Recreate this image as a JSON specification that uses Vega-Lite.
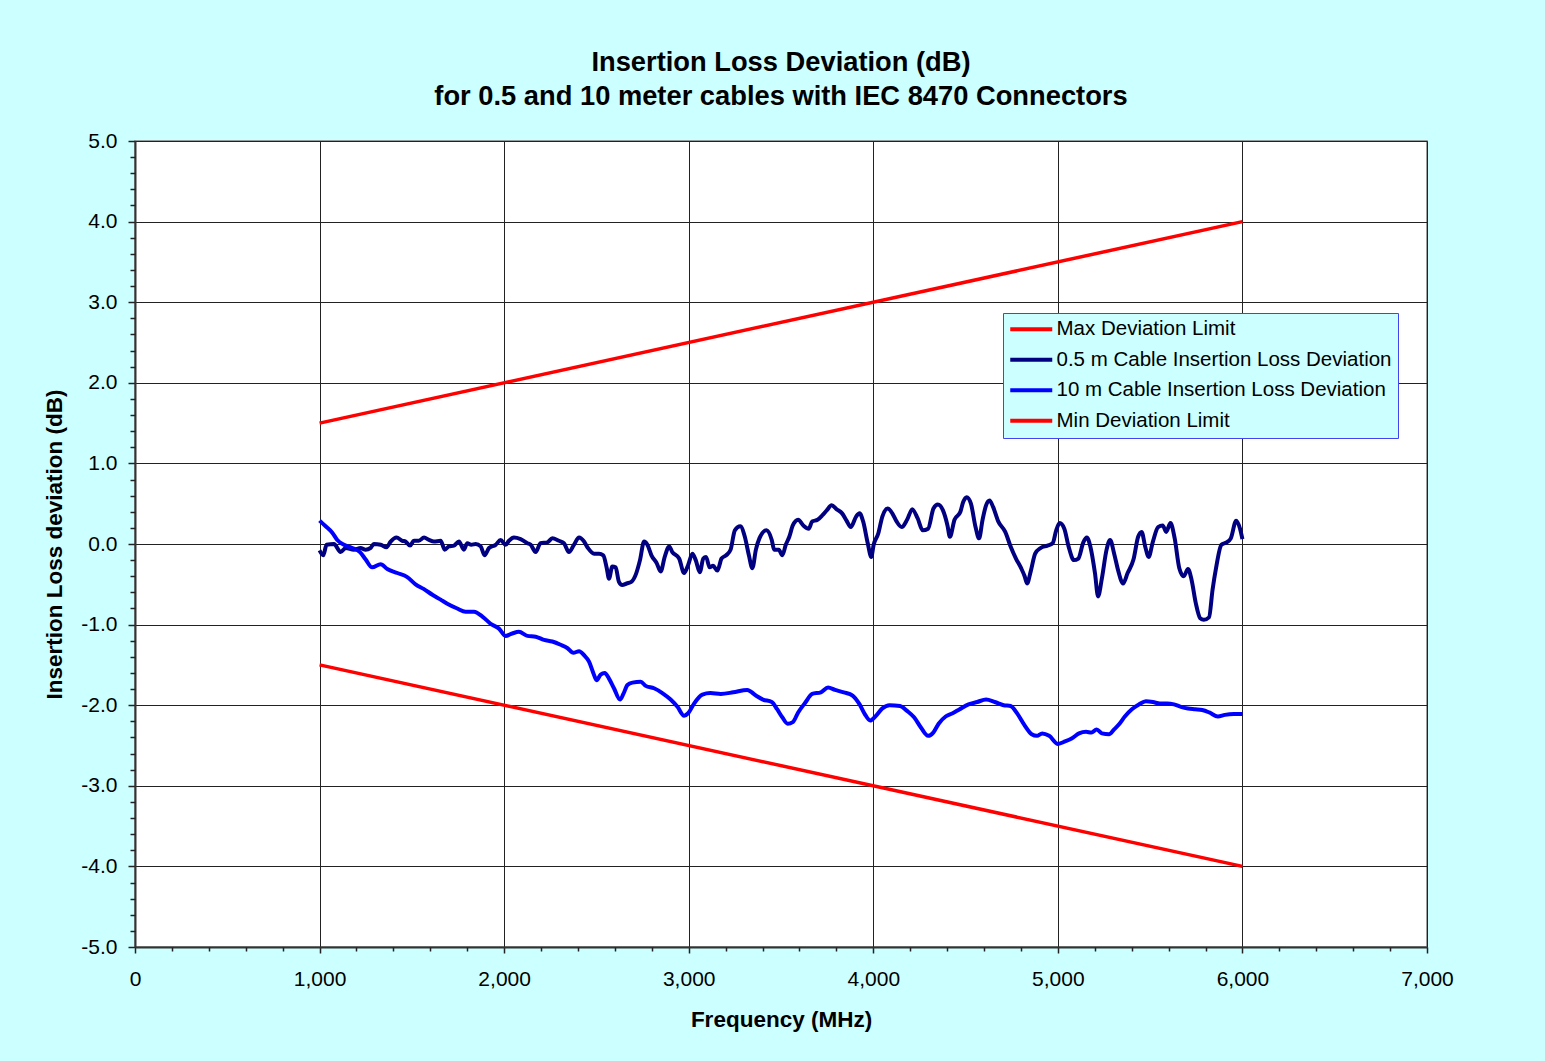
{
  "$schema": "https://vega.github.io/schema/vega-lite/v6.json",
  "width": 1292,
  "height": 806,
  "autosize": {"type": "none"},
  "padding": {"left": 135, "top": 141, "right": 118, "bottom": 114},
  "background": "#CCFFFF",
  "title": {
    "text": ["Insertion Loss Deviation (dB)", "for 0.5 and 10 meter cables with IEC 8470 Connectors"],
    "font": "Liberation Sans",
    "fontSize": 27.3,
    "fontWeight": "bold",
    "color": "#000000",
    "anchor": "middle",
    "frame": "group",
    "offset": 20,
    "lineHeight": 34
  },
  "config": {
    "font": "Liberation Sans",
    "view": {"fill": "#FFFFFF", "stroke": "#808080", "strokeWidth": 1.5}
  },
  "layer": [
    {
      "data": {"values": [
        {"s": "Max Deviation Limit", "f": 1000, "v": 1.5},
        {"s": "Max Deviation Limit", "f": 6000, "v": 4.0},
        {"s": "Min Deviation Limit", "f": 1000, "v": -1.5},
        {"s": "Min Deviation Limit", "f": 6000, "v": -4.0}
      ]},
      "mark": {"type": "line", "strokeWidth": 3.5},
      "encoding": {
        "x": {
          "field": "f", "type": "quantitative",
          "scale": {"domain": [0, 7000], "nice": false, "zero": false},
          "axis": {
            "orient": "bottom",
            "values": [0, 1000, 2000, 3000, 4000, 5000, 6000, 7000],
            "format": ",.0f",
            "title": "Frequency (MHz)",
            "titleFont": "Liberation Sans", "titleFontSize": 22.5, "titleFontWeight": "bold", "titleColor": "#000000",
            "titlePadding": 19,
            "labelFont": "Liberation Sans", "labelFontSize": 21, "labelColor": "#000000",
            "labelPadding": 15, "labelFlush": false, "labelOverlap": false,
            "tickSize": 6, "tickColor": "#222222", "tickWidth": 1.5,
            "domainColor": "#333333", "domainWidth": 2,
            "grid": true, "gridColor": "#222222", "gridWidth": 1
          }
        },
        "y": {
          "field": "v", "type": "quantitative",
          "scale": {"domain": [-5, 5], "nice": false, "zero": false},
          "axis": {
            "orient": "left",
            "values": [-5, -4, -3, -2, -1, 0, 1, 2, 3, 4, 5],
            "labelExpr": "replace(format(datum.value, '.1f'), '\u2212', '-')",
            "title": "Insertion Loss deviation (dB)",
            "titleFont": "Liberation Sans", "titleFontSize": 22.5, "titleFontWeight": "bold", "titleColor": "#000000",
            "titlePadding": 14,
            "labelFont": "Liberation Sans", "labelFontSize": 21, "labelColor": "#000000",
            "labelPadding": 11, "labelFlush": false, "labelOverlap": false,
            "tickSize": 7, "tickColor": "#222222", "tickWidth": 1.5,
            "domainColor": "#333333", "domainWidth": 2,
            "grid": true, "gridColor": "#222222", "gridWidth": 1
          }
        },
        "color": {
          "field": "s", "type": "nominal",
          "scale": {
            "domain": ["Max Deviation Limit", "0.5 m Cable Insertion Loss Deviation", "10 m Cable Insertion Loss Deviation", "Min Deviation Limit"],
            "range": ["#FF0000", "#000080", "#0000FF", "#FF0000"]
          },
          "legend": {
            "orient": "none",
            "legendX": 868,
            "legendY": 172,
            "title": null,
            "fillColor": "#CCFFFF",
            "strokeColor": "#4444EE",
            "padding": 6,
            "rowPadding": 9.5,
            "symbolType": "M-9,0H33",
            "symbolSize": 4,
            "symbolStrokeWidth": 4,
            "symbolOpacity": 1,
            "labelOffset": 27,
            "labelFont": "Liberation Sans",
            "labelFontSize": 20.5,
            "labelColor": "#000000",
            "labelLimit": 400
          }
        }
      }
    },
    {
      "data": {"values": [
        {"s": "0.5 m Cable Insertion Loss Deviation", "f": 1000, "v": -0.08},
        {"s": "0.5 m Cable Insertion Loss Deviation", "f": 1020, "v": -0.14},
        {"s": "0.5 m Cable Insertion Loss Deviation", "f": 1038, "v": -0.01},
        {"s": "0.5 m Cable Insertion Loss Deviation", "f": 1078, "v": 0.0},
        {"s": "0.5 m Cable Insertion Loss Deviation", "f": 1114, "v": -0.10},
        {"s": "0.5 m Cable Insertion Loss Deviation", "f": 1141, "v": -0.05},
        {"s": "0.5 m Cable Insertion Loss Deviation", "f": 1186, "v": -0.07},
        {"s": "0.5 m Cable Insertion Loss Deviation", "f": 1222, "v": -0.05},
        {"s": "0.5 m Cable Insertion Loss Deviation", "f": 1249, "v": -0.07},
        {"s": "0.5 m Cable Insertion Loss Deviation", "f": 1276, "v": -0.05},
        {"s": "0.5 m Cable Insertion Loss Deviation", "f": 1294, "v": 0.0},
        {"s": "0.5 m Cable Insertion Loss Deviation", "f": 1331, "v": -0.01},
        {"s": "0.5 m Cable Insertion Loss Deviation", "f": 1363, "v": -0.04},
        {"s": "0.5 m Cable Insertion Loss Deviation", "f": 1385, "v": 0.03},
        {"s": "0.5 m Cable Insertion Loss Deviation", "f": 1417, "v": 0.08},
        {"s": "0.5 m Cable Insertion Loss Deviation", "f": 1448, "v": 0.04},
        {"s": "0.5 m Cable Insertion Loss Deviation", "f": 1466, "v": 0.03},
        {"s": "0.5 m Cable Insertion Loss Deviation", "f": 1490, "v": -0.02},
        {"s": "0.5 m Cable Insertion Loss Deviation", "f": 1511, "v": 0.04},
        {"s": "0.5 m Cable Insertion Loss Deviation", "f": 1538, "v": 0.04},
        {"s": "0.5 m Cable Insertion Loss Deviation", "f": 1566, "v": 0.08},
        {"s": "0.5 m Cable Insertion Loss Deviation", "f": 1593, "v": 0.05},
        {"s": "0.5 m Cable Insertion Loss Deviation", "f": 1620, "v": 0.03},
        {"s": "0.5 m Cable Insertion Loss Deviation", "f": 1656, "v": 0.04},
        {"s": "0.5 m Cable Insertion Loss Deviation", "f": 1678, "v": -0.07},
        {"s": "0.5 m Cable Insertion Loss Deviation", "f": 1701, "v": -0.03},
        {"s": "0.5 m Cable Insertion Loss Deviation", "f": 1728, "v": -0.02},
        {"s": "0.5 m Cable Insertion Loss Deviation", "f": 1755, "v": 0.03},
        {"s": "0.5 m Cable Insertion Loss Deviation", "f": 1782, "v": -0.07},
        {"s": "0.5 m Cable Insertion Loss Deviation", "f": 1800, "v": 0.01},
        {"s": "0.5 m Cable Insertion Loss Deviation", "f": 1822, "v": -0.01},
        {"s": "0.5 m Cable Insertion Loss Deviation", "f": 1846, "v": 0.0},
        {"s": "0.5 m Cable Insertion Loss Deviation", "f": 1873, "v": -0.03},
        {"s": "0.5 m Cable Insertion Loss Deviation", "f": 1894, "v": -0.14},
        {"s": "0.5 m Cable Insertion Loss Deviation", "f": 1918, "v": -0.05},
        {"s": "0.5 m Cable Insertion Loss Deviation", "f": 1954, "v": -0.01},
        {"s": "0.5 m Cable Insertion Loss Deviation", "f": 1981, "v": 0.05},
        {"s": "0.5 m Cable Insertion Loss Deviation", "f": 2008, "v": -0.01},
        {"s": "0.5 m Cable Insertion Loss Deviation", "f": 2026, "v": 0.04},
        {"s": "0.5 m Cable Insertion Loss Deviation", "f": 2053, "v": 0.08},
        {"s": "0.5 m Cable Insertion Loss Deviation", "f": 2089, "v": 0.06},
        {"s": "0.5 m Cable Insertion Loss Deviation", "f": 2126, "v": 0.01},
        {"s": "0.5 m Cable Insertion Loss Deviation", "f": 2144, "v": -0.01},
        {"s": "0.5 m Cable Insertion Loss Deviation", "f": 2171, "v": -0.10},
        {"s": "0.5 m Cable Insertion Loss Deviation", "f": 2197, "v": 0.01},
        {"s": "0.5 m Cable Insertion Loss Deviation", "f": 2234, "v": 0.02},
        {"s": "0.5 m Cable Insertion Loss Deviation", "f": 2261, "v": 0.07},
        {"s": "0.5 m Cable Insertion Loss Deviation", "f": 2297, "v": 0.04},
        {"s": "0.5 m Cable Insertion Loss Deviation", "f": 2324, "v": 0.01},
        {"s": "0.5 m Cable Insertion Loss Deviation", "f": 2351, "v": -0.10},
        {"s": "0.5 m Cable Insertion Loss Deviation", "f": 2378, "v": -0.01},
        {"s": "0.5 m Cable Insertion Loss Deviation", "f": 2406, "v": 0.08},
        {"s": "0.5 m Cable Insertion Loss Deviation", "f": 2433, "v": 0.03},
        {"s": "0.5 m Cable Insertion Loss Deviation", "f": 2454, "v": -0.05},
        {"s": "0.5 m Cable Insertion Loss Deviation", "f": 2487, "v": -0.12},
        {"s": "0.5 m Cable Insertion Loss Deviation", "f": 2514, "v": -0.12},
        {"s": "0.5 m Cable Insertion Loss Deviation", "f": 2537, "v": -0.14},
        {"s": "0.5 m Cable Insertion Loss Deviation", "f": 2556, "v": -0.30},
        {"s": "0.5 m Cable Insertion Loss Deviation", "f": 2568, "v": -0.43},
        {"s": "0.5 m Cable Insertion Loss Deviation", "f": 2586, "v": -0.28},
        {"s": "0.5 m Cable Insertion Loss Deviation", "f": 2604, "v": -0.29},
        {"s": "0.5 m Cable Insertion Loss Deviation", "f": 2622, "v": -0.47},
        {"s": "0.5 m Cable Insertion Loss Deviation", "f": 2640, "v": -0.51},
        {"s": "0.5 m Cable Insertion Loss Deviation", "f": 2664, "v": -0.49},
        {"s": "0.5 m Cable Insertion Loss Deviation", "f": 2689, "v": -0.47},
        {"s": "0.5 m Cable Insertion Loss Deviation", "f": 2713, "v": -0.38},
        {"s": "0.5 m Cable Insertion Loss Deviation", "f": 2736, "v": -0.20},
        {"s": "0.5 m Cable Insertion Loss Deviation", "f": 2758, "v": 0.03},
        {"s": "0.5 m Cable Insertion Loss Deviation", "f": 2776, "v": -0.01},
        {"s": "0.5 m Cable Insertion Loss Deviation", "f": 2798, "v": -0.14},
        {"s": "0.5 m Cable Insertion Loss Deviation", "f": 2827, "v": -0.24},
        {"s": "0.5 m Cable Insertion Loss Deviation", "f": 2848, "v": -0.34},
        {"s": "0.5 m Cable Insertion Loss Deviation", "f": 2870, "v": -0.16},
        {"s": "0.5 m Cable Insertion Loss Deviation", "f": 2894, "v": -0.03},
        {"s": "0.5 m Cable Insertion Loss Deviation", "f": 2911, "v": -0.10},
        {"s": "0.5 m Cable Insertion Loss Deviation", "f": 2948, "v": -0.18},
        {"s": "0.5 m Cable Insertion Loss Deviation", "f": 2975, "v": -0.36},
        {"s": "0.5 m Cable Insertion Loss Deviation", "f": 2997, "v": -0.26},
        {"s": "0.5 m Cable Insertion Loss Deviation", "f": 3020, "v": -0.12},
        {"s": "0.5 m Cable Insertion Loss Deviation", "f": 3038, "v": -0.20},
        {"s": "0.5 m Cable Insertion Loss Deviation", "f": 3060, "v": -0.35},
        {"s": "0.5 m Cable Insertion Loss Deviation", "f": 3079, "v": -0.18},
        {"s": "0.5 m Cable Insertion Loss Deviation", "f": 3094, "v": -0.16},
        {"s": "0.5 m Cable Insertion Loss Deviation", "f": 3113, "v": -0.29},
        {"s": "0.5 m Cable Insertion Loss Deviation", "f": 3132, "v": -0.27},
        {"s": "0.5 m Cable Insertion Loss Deviation", "f": 3155, "v": -0.33},
        {"s": "0.5 m Cable Insertion Loss Deviation", "f": 3178, "v": -0.18},
        {"s": "0.5 m Cable Insertion Loss Deviation", "f": 3203, "v": -0.14},
        {"s": "0.5 m Cable Insertion Loss Deviation", "f": 3227, "v": -0.07},
        {"s": "0.5 m Cable Insertion Loss Deviation", "f": 3250, "v": 0.17},
        {"s": "0.5 m Cable Insertion Loss Deviation", "f": 3279, "v": 0.22},
        {"s": "0.5 m Cable Insertion Loss Deviation", "f": 3304, "v": 0.09},
        {"s": "0.5 m Cable Insertion Loss Deviation", "f": 3326, "v": -0.14},
        {"s": "0.5 m Cable Insertion Loss Deviation", "f": 3345, "v": -0.30},
        {"s": "0.5 m Cable Insertion Loss Deviation", "f": 3364, "v": -0.07},
        {"s": "0.5 m Cable Insertion Loss Deviation", "f": 3383, "v": 0.07},
        {"s": "0.5 m Cable Insertion Loss Deviation", "f": 3421, "v": 0.17},
        {"s": "0.5 m Cable Insertion Loss Deviation", "f": 3450, "v": 0.05},
        {"s": "0.5 m Cable Insertion Loss Deviation", "f": 3463, "v": -0.07},
        {"s": "0.5 m Cable Insertion Loss Deviation", "f": 3488, "v": -0.07},
        {"s": "0.5 m Cable Insertion Loss Deviation", "f": 3507, "v": -0.14},
        {"s": "0.5 m Cable Insertion Loss Deviation", "f": 3526, "v": -0.01},
        {"s": "0.5 m Cable Insertion Loss Deviation", "f": 3545, "v": 0.09},
        {"s": "0.5 m Cable Insertion Loss Deviation", "f": 3564, "v": 0.23},
        {"s": "0.5 m Cable Insertion Loss Deviation", "f": 3593, "v": 0.30},
        {"s": "0.5 m Cable Insertion Loss Deviation", "f": 3621, "v": 0.23},
        {"s": "0.5 m Cable Insertion Loss Deviation", "f": 3650, "v": 0.19},
        {"s": "0.5 m Cable Insertion Loss Deviation", "f": 3669, "v": 0.28},
        {"s": "0.5 m Cable Insertion Loss Deviation", "f": 3698, "v": 0.30},
        {"s": "0.5 m Cable Insertion Loss Deviation", "f": 3726, "v": 0.36},
        {"s": "0.5 m Cable Insertion Loss Deviation", "f": 3749, "v": 0.42},
        {"s": "0.5 m Cable Insertion Loss Deviation", "f": 3774, "v": 0.48},
        {"s": "0.5 m Cable Insertion Loss Deviation", "f": 3802, "v": 0.43},
        {"s": "0.5 m Cable Insertion Loss Deviation", "f": 3831, "v": 0.38},
        {"s": "0.5 m Cable Insertion Loss Deviation", "f": 3855, "v": 0.29},
        {"s": "0.5 m Cable Insertion Loss Deviation", "f": 3878, "v": 0.21},
        {"s": "0.5 m Cable Insertion Loss Deviation", "f": 3907, "v": 0.34},
        {"s": "0.5 m Cable Insertion Loss Deviation", "f": 3926, "v": 0.38},
        {"s": "0.5 m Cable Insertion Loss Deviation", "f": 3945, "v": 0.28},
        {"s": "0.5 m Cable Insertion Loss Deviation", "f": 3970, "v": 0.01},
        {"s": "0.5 m Cable Insertion Loss Deviation", "f": 3989, "v": -0.16},
        {"s": "0.5 m Cable Insertion Loss Deviation", "f": 4002, "v": -0.01},
        {"s": "0.5 m Cable Insertion Loss Deviation", "f": 4027, "v": 0.13},
        {"s": "0.5 m Cable Insertion Loss Deviation", "f": 4049, "v": 0.34},
        {"s": "0.5 m Cable Insertion Loss Deviation", "f": 4078, "v": 0.44},
        {"s": "0.5 m Cable Insertion Loss Deviation", "f": 4103, "v": 0.38},
        {"s": "0.5 m Cable Insertion Loss Deviation", "f": 4126, "v": 0.28},
        {"s": "0.5 m Cable Insertion Loss Deviation", "f": 4154, "v": 0.21},
        {"s": "0.5 m Cable Insertion Loss Deviation", "f": 4183, "v": 0.30},
        {"s": "0.5 m Cable Insertion Loss Deviation", "f": 4211, "v": 0.43},
        {"s": "0.5 m Cable Insertion Loss Deviation", "f": 4240, "v": 0.32},
        {"s": "0.5 m Cable Insertion Loss Deviation", "f": 4268, "v": 0.17},
        {"s": "0.5 m Cable Insertion Loss Deviation", "f": 4297, "v": 0.19},
        {"s": "0.5 m Cable Insertion Loss Deviation", "f": 4326, "v": 0.44},
        {"s": "0.5 m Cable Insertion Loss Deviation", "f": 4350, "v": 0.49},
        {"s": "0.5 m Cable Insertion Loss Deviation", "f": 4377, "v": 0.42},
        {"s": "0.5 m Cable Insertion Loss Deviation", "f": 4402, "v": 0.23},
        {"s": "0.5 m Cable Insertion Loss Deviation", "f": 4415, "v": 0.09},
        {"s": "0.5 m Cable Insertion Loss Deviation", "f": 4440, "v": 0.30},
        {"s": "0.5 m Cable Insertion Loss Deviation", "f": 4472, "v": 0.40},
        {"s": "0.5 m Cable Insertion Loss Deviation", "f": 4487, "v": 0.52},
        {"s": "0.5 m Cable Insertion Loss Deviation", "f": 4506, "v": 0.58},
        {"s": "0.5 m Cable Insertion Loss Deviation", "f": 4529, "v": 0.50},
        {"s": "0.5 m Cable Insertion Loss Deviation", "f": 4554, "v": 0.21},
        {"s": "0.5 m Cable Insertion Loss Deviation", "f": 4573, "v": 0.07},
        {"s": "0.5 m Cable Insertion Loss Deviation", "f": 4592, "v": 0.30},
        {"s": "0.5 m Cable Insertion Loss Deviation", "f": 4611, "v": 0.48},
        {"s": "0.5 m Cable Insertion Loss Deviation", "f": 4630, "v": 0.54},
        {"s": "0.5 m Cable Insertion Loss Deviation", "f": 4649, "v": 0.46},
        {"s": "0.5 m Cable Insertion Loss Deviation", "f": 4677, "v": 0.28},
        {"s": "0.5 m Cable Insertion Loss Deviation", "f": 4715, "v": 0.15},
        {"s": "0.5 m Cable Insertion Loss Deviation", "f": 4744, "v": -0.03},
        {"s": "0.5 m Cable Insertion Loss Deviation", "f": 4773, "v": -0.18},
        {"s": "0.5 m Cable Insertion Loss Deviation", "f": 4801, "v": -0.30},
        {"s": "0.5 m Cable Insertion Loss Deviation", "f": 4820, "v": -0.40},
        {"s": "0.5 m Cable Insertion Loss Deviation", "f": 4833, "v": -0.49},
        {"s": "0.5 m Cable Insertion Loss Deviation", "f": 4853, "v": -0.34},
        {"s": "0.5 m Cable Insertion Loss Deviation", "f": 4877, "v": -0.12},
        {"s": "0.5 m Cable Insertion Loss Deviation", "f": 4906, "v": -0.05},
        {"s": "0.5 m Cable Insertion Loss Deviation", "f": 4944, "v": -0.02},
        {"s": "0.5 m Cable Insertion Loss Deviation", "f": 4972, "v": 0.01},
        {"s": "0.5 m Cable Insertion Loss Deviation", "f": 4991, "v": 0.17},
        {"s": "0.5 m Cable Insertion Loss Deviation", "f": 5010, "v": 0.26},
        {"s": "0.5 m Cable Insertion Loss Deviation", "f": 5035, "v": 0.19},
        {"s": "0.5 m Cable Insertion Loss Deviation", "f": 5058, "v": -0.03},
        {"s": "0.5 m Cable Insertion Loss Deviation", "f": 5087, "v": -0.20},
        {"s": "0.5 m Cable Insertion Loss Deviation", "f": 5111, "v": -0.18},
        {"s": "0.5 m Cable Insertion Loss Deviation", "f": 5138, "v": 0.02},
        {"s": "0.5 m Cable Insertion Loss Deviation", "f": 5157, "v": 0.08},
        {"s": "0.5 m Cable Insertion Loss Deviation", "f": 5176, "v": -0.03},
        {"s": "0.5 m Cable Insertion Loss Deviation", "f": 5201, "v": -0.36},
        {"s": "0.5 m Cable Insertion Loss Deviation", "f": 5218, "v": -0.65},
        {"s": "0.5 m Cable Insertion Loss Deviation", "f": 5239, "v": -0.42},
        {"s": "0.5 m Cable Insertion Loss Deviation", "f": 5264, "v": -0.07},
        {"s": "0.5 m Cable Insertion Loss Deviation", "f": 5283, "v": 0.05},
        {"s": "0.5 m Cable Insertion Loss Deviation", "f": 5305, "v": -0.12},
        {"s": "0.5 m Cable Insertion Loss Deviation", "f": 5328, "v": -0.34},
        {"s": "0.5 m Cable Insertion Loss Deviation", "f": 5353, "v": -0.49},
        {"s": "0.5 m Cable Insertion Loss Deviation", "f": 5378, "v": -0.36},
        {"s": "0.5 m Cable Insertion Loss Deviation", "f": 5410, "v": -0.19},
        {"s": "0.5 m Cable Insertion Loss Deviation", "f": 5435, "v": 0.09},
        {"s": "0.5 m Cable Insertion Loss Deviation", "f": 5454, "v": 0.15},
        {"s": "0.5 m Cable Insertion Loss Deviation", "f": 5473, "v": -0.03},
        {"s": "0.5 m Cable Insertion Loss Deviation", "f": 5492, "v": -0.16},
        {"s": "0.5 m Cable Insertion Loss Deviation", "f": 5515, "v": 0.03},
        {"s": "0.5 m Cable Insertion Loss Deviation", "f": 5543, "v": 0.21},
        {"s": "0.5 m Cable Insertion Loss Deviation", "f": 5568, "v": 0.23},
        {"s": "0.5 m Cable Insertion Loss Deviation", "f": 5587, "v": 0.15},
        {"s": "0.5 m Cable Insertion Loss Deviation", "f": 5610, "v": 0.26},
        {"s": "0.5 m Cable Insertion Loss Deviation", "f": 5633, "v": 0.07},
        {"s": "0.5 m Cable Insertion Loss Deviation", "f": 5658, "v": -0.30},
        {"s": "0.5 m Cable Insertion Loss Deviation", "f": 5682, "v": -0.40},
        {"s": "0.5 m Cable Insertion Loss Deviation", "f": 5705, "v": -0.31},
        {"s": "0.5 m Cable Insertion Loss Deviation", "f": 5724, "v": -0.44},
        {"s": "0.5 m Cable Insertion Loss Deviation", "f": 5747, "v": -0.73},
        {"s": "0.5 m Cable Insertion Loss Deviation", "f": 5771, "v": -0.92},
        {"s": "0.5 m Cable Insertion Loss Deviation", "f": 5791, "v": -0.94},
        {"s": "0.5 m Cable Insertion Loss Deviation", "f": 5819, "v": -0.91},
        {"s": "0.5 m Cable Insertion Loss Deviation", "f": 5838, "v": -0.57},
        {"s": "0.5 m Cable Insertion Loss Deviation", "f": 5857, "v": -0.30},
        {"s": "0.5 m Cable Insertion Loss Deviation", "f": 5886, "v": -0.01},
        {"s": "0.5 m Cable Insertion Loss Deviation", "f": 5914, "v": 0.02},
        {"s": "0.5 m Cable Insertion Loss Deviation", "f": 5937, "v": 0.07},
        {"s": "0.5 m Cable Insertion Loss Deviation", "f": 5966, "v": 0.29},
        {"s": "0.5 m Cable Insertion Loss Deviation", "f": 5987, "v": 0.19},
        {"s": "0.5 m Cable Insertion Loss Deviation", "f": 6000, "v": 0.06},
        {"s": "10 m Cable Insertion Loss Deviation", "f": 1000, "v": 0.29},
        {"s": "10 m Cable Insertion Loss Deviation", "f": 1033, "v": 0.22},
        {"s": "10 m Cable Insertion Loss Deviation", "f": 1069, "v": 0.14},
        {"s": "10 m Cable Insertion Loss Deviation", "f": 1096, "v": 0.05},
        {"s": "10 m Cable Insertion Loss Deviation", "f": 1132, "v": -0.01},
        {"s": "10 m Cable Insertion Loss Deviation", "f": 1177, "v": -0.05},
        {"s": "10 m Cable Insertion Loss Deviation", "f": 1219, "v": -0.10},
        {"s": "10 m Cable Insertion Loss Deviation", "f": 1249, "v": -0.19},
        {"s": "10 m Cable Insertion Loss Deviation", "f": 1285, "v": -0.29},
        {"s": "10 m Cable Insertion Loss Deviation", "f": 1331, "v": -0.25},
        {"s": "10 m Cable Insertion Loss Deviation", "f": 1367, "v": -0.31},
        {"s": "10 m Cable Insertion Loss Deviation", "f": 1421, "v": -0.36},
        {"s": "10 m Cable Insertion Loss Deviation", "f": 1475, "v": -0.41},
        {"s": "10 m Cable Insertion Loss Deviation", "f": 1520, "v": -0.50},
        {"s": "10 m Cable Insertion Loss Deviation", "f": 1566, "v": -0.56},
        {"s": "10 m Cable Insertion Loss Deviation", "f": 1611, "v": -0.63},
        {"s": "10 m Cable Insertion Loss Deviation", "f": 1656, "v": -0.69},
        {"s": "10 m Cable Insertion Loss Deviation", "f": 1692, "v": -0.74},
        {"s": "10 m Cable Insertion Loss Deviation", "f": 1746, "v": -0.80},
        {"s": "10 m Cable Insertion Loss Deviation", "f": 1791, "v": -0.84},
        {"s": "10 m Cable Insertion Loss Deviation", "f": 1837, "v": -0.84},
        {"s": "10 m Cable Insertion Loss Deviation", "f": 1882, "v": -0.90},
        {"s": "10 m Cable Insertion Loss Deviation", "f": 1927, "v": -0.99},
        {"s": "10 m Cable Insertion Loss Deviation", "f": 1972, "v": -1.05},
        {"s": "10 m Cable Insertion Loss Deviation", "f": 2008, "v": -1.14},
        {"s": "10 m Cable Insertion Loss Deviation", "f": 2044, "v": -1.11},
        {"s": "10 m Cable Insertion Loss Deviation", "f": 2080, "v": -1.09},
        {"s": "10 m Cable Insertion Loss Deviation", "f": 2126, "v": -1.14},
        {"s": "10 m Cable Insertion Loss Deviation", "f": 2171, "v": -1.15},
        {"s": "10 m Cable Insertion Loss Deviation", "f": 2216, "v": -1.19},
        {"s": "10 m Cable Insertion Loss Deviation", "f": 2261, "v": -1.21},
        {"s": "10 m Cable Insertion Loss Deviation", "f": 2306, "v": -1.25},
        {"s": "10 m Cable Insertion Loss Deviation", "f": 2342, "v": -1.29},
        {"s": "10 m Cable Insertion Loss Deviation", "f": 2375, "v": -1.35},
        {"s": "10 m Cable Insertion Loss Deviation", "f": 2406, "v": -1.33},
        {"s": "10 m Cable Insertion Loss Deviation", "f": 2433, "v": -1.38},
        {"s": "10 m Cable Insertion Loss Deviation", "f": 2460, "v": -1.46},
        {"s": "10 m Cable Insertion Loss Deviation", "f": 2483, "v": -1.60},
        {"s": "10 m Cable Insertion Loss Deviation", "f": 2501, "v": -1.69},
        {"s": "10 m Cable Insertion Loss Deviation", "f": 2523, "v": -1.62},
        {"s": "10 m Cable Insertion Loss Deviation", "f": 2545, "v": -1.60},
        {"s": "10 m Cable Insertion Loss Deviation", "f": 2568, "v": -1.67},
        {"s": "10 m Cable Insertion Loss Deviation", "f": 2595, "v": -1.79},
        {"s": "10 m Cable Insertion Loss Deviation", "f": 2628, "v": -1.93},
        {"s": "10 m Cable Insertion Loss Deviation", "f": 2646, "v": -1.86},
        {"s": "10 m Cable Insertion Loss Deviation", "f": 2668, "v": -1.75},
        {"s": "10 m Cable Insertion Loss Deviation", "f": 2695, "v": -1.72},
        {"s": "10 m Cable Insertion Loss Deviation", "f": 2740, "v": -1.71},
        {"s": "10 m Cable Insertion Loss Deviation", "f": 2767, "v": -1.76},
        {"s": "10 m Cable Insertion Loss Deviation", "f": 2812, "v": -1.79},
        {"s": "10 m Cable Insertion Loss Deviation", "f": 2857, "v": -1.85},
        {"s": "10 m Cable Insertion Loss Deviation", "f": 2902, "v": -1.93},
        {"s": "10 m Cable Insertion Loss Deviation", "f": 2939, "v": -2.02},
        {"s": "10 m Cable Insertion Loss Deviation", "f": 2975, "v": -2.13},
        {"s": "10 m Cable Insertion Loss Deviation", "f": 2997, "v": -2.10},
        {"s": "10 m Cable Insertion Loss Deviation", "f": 3029, "v": -1.98},
        {"s": "10 m Cable Insertion Loss Deviation", "f": 3074, "v": -1.87},
        {"s": "10 m Cable Insertion Loss Deviation", "f": 3117, "v": -1.85},
        {"s": "10 m Cable Insertion Loss Deviation", "f": 3174, "v": -1.86},
        {"s": "10 m Cable Insertion Loss Deviation", "f": 3241, "v": -1.84},
        {"s": "10 m Cable Insertion Loss Deviation", "f": 3317, "v": -1.81},
        {"s": "10 m Cable Insertion Loss Deviation", "f": 3364, "v": -1.88},
        {"s": "10 m Cable Insertion Loss Deviation", "f": 3402, "v": -1.93},
        {"s": "10 m Cable Insertion Loss Deviation", "f": 3450, "v": -1.96},
        {"s": "10 m Cable Insertion Loss Deviation", "f": 3479, "v": -2.05},
        {"s": "10 m Cable Insertion Loss Deviation", "f": 3507, "v": -2.15},
        {"s": "10 m Cable Insertion Loss Deviation", "f": 3536, "v": -2.23},
        {"s": "10 m Cable Insertion Loss Deviation", "f": 3564, "v": -2.21},
        {"s": "10 m Cable Insertion Loss Deviation", "f": 3593, "v": -2.09},
        {"s": "10 m Cable Insertion Loss Deviation", "f": 3631, "v": -1.97},
        {"s": "10 m Cable Insertion Loss Deviation", "f": 3669, "v": -1.86},
        {"s": "10 m Cable Insertion Loss Deviation", "f": 3716, "v": -1.84},
        {"s": "10 m Cable Insertion Loss Deviation", "f": 3755, "v": -1.78},
        {"s": "10 m Cable Insertion Loss Deviation", "f": 3793, "v": -1.81},
        {"s": "10 m Cable Insertion Loss Deviation", "f": 3840, "v": -1.84},
        {"s": "10 m Cable Insertion Loss Deviation", "f": 3888, "v": -1.88},
        {"s": "10 m Cable Insertion Loss Deviation", "f": 3926, "v": -1.99},
        {"s": "10 m Cable Insertion Loss Deviation", "f": 3954, "v": -2.11},
        {"s": "10 m Cable Insertion Loss Deviation", "f": 3983, "v": -2.19},
        {"s": "10 m Cable Insertion Loss Deviation", "f": 4011, "v": -2.14},
        {"s": "10 m Cable Insertion Loss Deviation", "f": 4049, "v": -2.04},
        {"s": "10 m Cable Insertion Loss Deviation", "f": 4088, "v": -2.00},
        {"s": "10 m Cable Insertion Loss Deviation", "f": 4145, "v": -2.01},
        {"s": "10 m Cable Insertion Loss Deviation", "f": 4183, "v": -2.07},
        {"s": "10 m Cable Insertion Loss Deviation", "f": 4221, "v": -2.15},
        {"s": "10 m Cable Insertion Loss Deviation", "f": 4259, "v": -2.28},
        {"s": "10 m Cable Insertion Loss Deviation", "f": 4297, "v": -2.38},
        {"s": "10 m Cable Insertion Loss Deviation", "f": 4325, "v": -2.34},
        {"s": "10 m Cable Insertion Loss Deviation", "f": 4354, "v": -2.23},
        {"s": "10 m Cable Insertion Loss Deviation", "f": 4392, "v": -2.14},
        {"s": "10 m Cable Insertion Loss Deviation", "f": 4430, "v": -2.10},
        {"s": "10 m Cable Insertion Loss Deviation", "f": 4468, "v": -2.05},
        {"s": "10 m Cable Insertion Loss Deviation", "f": 4516, "v": -1.99},
        {"s": "10 m Cable Insertion Loss Deviation", "f": 4563, "v": -1.96},
        {"s": "10 m Cable Insertion Loss Deviation", "f": 4611, "v": -1.93},
        {"s": "10 m Cable Insertion Loss Deviation", "f": 4658, "v": -1.96},
        {"s": "10 m Cable Insertion Loss Deviation", "f": 4706, "v": -2.00},
        {"s": "10 m Cable Insertion Loss Deviation", "f": 4744, "v": -2.01},
        {"s": "10 m Cable Insertion Loss Deviation", "f": 4782, "v": -2.11},
        {"s": "10 m Cable Insertion Loss Deviation", "f": 4820, "v": -2.25},
        {"s": "10 m Cable Insertion Loss Deviation", "f": 4858, "v": -2.36},
        {"s": "10 m Cable Insertion Loss Deviation", "f": 4887, "v": -2.38},
        {"s": "10 m Cable Insertion Loss Deviation", "f": 4915, "v": -2.35},
        {"s": "10 m Cable Insertion Loss Deviation", "f": 4953, "v": -2.38},
        {"s": "10 m Cable Insertion Loss Deviation", "f": 5001, "v": -2.48},
        {"s": "10 m Cable Insertion Loss Deviation", "f": 5039, "v": -2.45},
        {"s": "10 m Cable Insertion Loss Deviation", "f": 5077, "v": -2.41},
        {"s": "10 m Cable Insertion Loss Deviation", "f": 5115, "v": -2.35},
        {"s": "10 m Cable Insertion Loss Deviation", "f": 5153, "v": -2.33},
        {"s": "10 m Cable Insertion Loss Deviation", "f": 5182, "v": -2.34},
        {"s": "10 m Cable Insertion Loss Deviation", "f": 5210, "v": -2.30},
        {"s": "10 m Cable Insertion Loss Deviation", "f": 5239, "v": -2.35},
        {"s": "10 m Cable Insertion Loss Deviation", "f": 5277, "v": -2.36},
        {"s": "10 m Cable Insertion Loss Deviation", "f": 5305, "v": -2.30},
        {"s": "10 m Cable Insertion Loss Deviation", "f": 5334, "v": -2.23},
        {"s": "10 m Cable Insertion Loss Deviation", "f": 5363, "v": -2.14},
        {"s": "10 m Cable Insertion Loss Deviation", "f": 5401, "v": -2.05},
        {"s": "10 m Cable Insertion Loss Deviation", "f": 5439, "v": -1.99},
        {"s": "10 m Cable Insertion Loss Deviation", "f": 5477, "v": -1.95},
        {"s": "10 m Cable Insertion Loss Deviation", "f": 5515, "v": -1.96},
        {"s": "10 m Cable Insertion Loss Deviation", "f": 5553, "v": -1.98},
        {"s": "10 m Cable Insertion Loss Deviation", "f": 5591, "v": -1.98},
        {"s": "10 m Cable Insertion Loss Deviation", "f": 5629, "v": -1.99},
        {"s": "10 m Cable Insertion Loss Deviation", "f": 5667, "v": -2.02},
        {"s": "10 m Cable Insertion Loss Deviation", "f": 5705, "v": -2.04},
        {"s": "10 m Cable Insertion Loss Deviation", "f": 5743, "v": -2.05},
        {"s": "10 m Cable Insertion Loss Deviation", "f": 5782, "v": -2.06},
        {"s": "10 m Cable Insertion Loss Deviation", "f": 5820, "v": -2.09},
        {"s": "10 m Cable Insertion Loss Deviation", "f": 5867, "v": -2.14},
        {"s": "10 m Cable Insertion Loss Deviation", "f": 5905, "v": -2.12},
        {"s": "10 m Cable Insertion Loss Deviation", "f": 5953, "v": -2.11},
        {"s": "10 m Cable Insertion Loss Deviation", "f": 6000, "v": -2.11}
      ]},
      "mark": {"type": "line", "strokeWidth": 4, "interpolate": "monotone"},
      "encoding": {
        "x": {
          "field": "f", "type": "quantitative",
          "axis": {
            "orient": "bottom",
            "values": [200, 400, 600, 800, 1200, 1400, 1600, 1800, 2200, 2400, 2600, 2800, 3200, 3400, 3600, 3800, 4200, 4400, 4600, 4800, 5200, 5400, 5600, 5800, 6200, 6400, 6600, 6800],
            "labels": false, "grid": false, "domain": false, "title": null,
            "tickSize": 4, "tickColor": "#222222", "tickWidth": 1.5
          }
        },
        "y": {
          "field": "v", "type": "quantitative",
          "axis": {
            "orient": "left",
            "values": [-4.8, -4.6, -4.4, -4.2, -3.8, -3.6, -3.4, -3.2, -2.8, -2.6, -2.4, -2.2, -1.8, -1.6, -1.4, -1.2, -0.8, -0.6, -0.4, -0.2, 0.2, 0.4, 0.6, 0.8, 1.2, 1.4, 1.6, 1.8, 2.2, 2.4, 2.6, 2.8, 3.2, 3.4, 3.6, 3.8, 4.2, 4.4, 4.6, 4.8],
            "labels": false, "grid": false, "domain": false, "title": null,
            "tickSize": 5, "tickColor": "#222222", "tickWidth": 1.5
          }
        },
        "color": {"field": "s", "type": "nominal"}
      }
    }
  ],
  "resolve": {"axis": {"x": "independent", "y": "independent"}}
}
